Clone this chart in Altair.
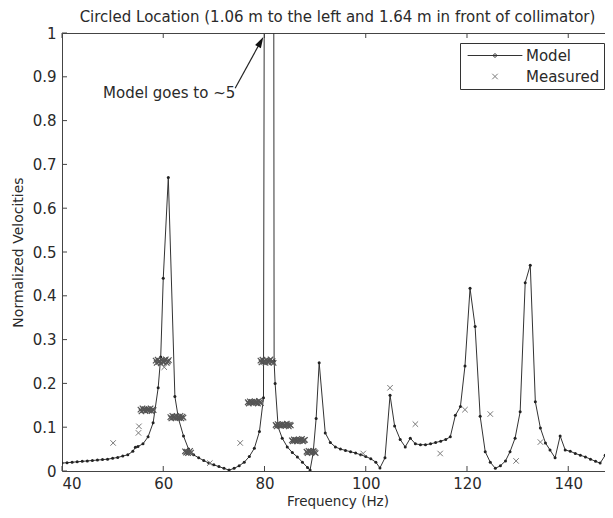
import altair as alt
import pandas as pd

TITLE = "Circled Location (1.06 m to the left and 1.64 m in front of collimator)"
X_TITLE = "Frequency (Hz)"
Y_TITLE = "Normalized Velocities"
X_TICKS = [40, 60, 80, 100, 120, 140]
Y_TICKS = [0, 0.1, 0.2, 0.3, 0.4, 0.5, 0.6, 0.7, 0.8, 0.9, 1.0]
X_DOMAIN = [40, 148.84]
Y_DOMAIN = [0, 1]

MODEL_FREQ = [40, 41, 42, 43, 44, 45, 46, 47, 48, 49, 50, 51, 52, 53, 54, 54.5, 55, 56, 57, 58,
              59, 59.5, 60, 61, 62.3, 63, 64, 65, 66, 67, 68, 69, 70, 71, 72, 73, 74, 75, 76, 77,
              78, 79, 79.8, 80.6, 81.5, 81.9, 82.1, 82.7, 83.5, 84.5, 85.5, 86.5, 87.5, 88.5, 89,
              89.6, 90.2, 90.8, 92, 93, 94, 95, 96, 97, 98, 99, 100, 101, 102, 102.8, 103.8, 104.8,
              105.7, 106.8, 107.8, 108.8, 109.8, 110.8, 111.8, 112.8, 113.8, 114.8, 115.8, 116.7,
              117.7, 118.7, 119.6, 120.6, 121.6, 122.6, 123.6, 124.6, 125.6, 126.6, 127.6, 128.5,
              129.5, 130.5, 131.5, 132.5, 133.5, 134.5, 135.5, 136.4, 137.4, 138.4, 139.4, 140.4,
              141.4, 142.4, 143.4, 144.4, 145.4, 146.3, 147.3, 148.3, 149.3]
MODEL_VEL = [0.018, 0.019, 0.020, 0.021, 0.022, 0.023, 0.024, 0.025, 0.026, 0.027, 0.029, 0.031,
             0.034, 0.037, 0.045, 0.054, 0.056, 0.062, 0.078, 0.11, 0.19, 0.26, 0.44, 0.67, 0.17,
             0.12, 0.08, 0.05, 0.037, 0.03, 0.024, 0.018, 0.014, 0.01, 0.006, 0.002, 0.006, 0.012,
             0.02, 0.033, 0.052, 0.09, 0.167, 5.0, 5.0, 0.25, 0.2, 0.1, 0.075, 0.055, 0.042, 0.032,
             0.02, 0.008, 0.002, 0.04, 0.12, 0.247, 0.087, 0.065, 0.055, 0.05, 0.047, 0.044, 0.041,
             0.037, 0.033, 0.028, 0.02, 0.007, 0.03, 0.173, 0.103, 0.072, 0.055, 0.075, 0.062,
             0.06, 0.06, 0.062, 0.065, 0.068, 0.072, 0.078, 0.127, 0.147, 0.24, 0.417, 0.33, 0.125,
             0.044, 0.02, 0.006, 0.012, 0.023, 0.044, 0.075, 0.135, 0.43, 0.47, 0.158, 0.098,
             0.064, 0.048, 0.03, 0.08, 0.048, 0.045, 0.04, 0.036, 0.032, 0.027, 0.022, 0.018,
             0.036, 0.098, 0.14]

# isolated measured points
MEAS_FREQ = [50.1, 55.1, 55.2, 60.2, 69.2, 75.2,
             99.5, 104.8, 109.8, 114.7, 119.6, 124.6, 129.7, 134.5]
MEAS_VEL = [0.064, 0.087, 0.102, 0.237, 0.018, 0.064,
            0.040, 0.190, 0.107, 0.040, 0.140, 0.130, 0.023, 0.066]

# dense groups of measured points (drawn as overlapping crosses)
CLUSTER_FREQ = [55.5, 55.7, 55.9, 56.1, 56.3, 56.5, 56.7, 56.9, 57.1, 57.3, 57.5, 57.7, 57.9, 58.1,
                58.5, 58.7, 58.9, 59.1, 59.3, 59.5, 59.7, 59.9, 60.1, 60.3, 60.5, 60.7, 60.9, 61.1,
                61.4, 61.6, 61.8, 62.0, 62.2, 62.4, 62.6, 62.8, 63.0, 63.2, 63.4, 63.6, 63.8, 64.0,
                64.3, 64.5, 64.7, 64.9, 65.1, 65.3, 65.5,
                76.7, 76.9, 77.1, 77.3, 77.5, 77.7, 77.9, 78.1, 78.3, 78.5, 78.7, 78.9, 79.1, 79.3,
                79.2, 79.4, 79.6, 79.8, 80.0, 80.2, 80.4, 80.6, 80.8, 81.0, 81.2, 81.4, 81.6, 81.8,
                82.2, 82.4, 82.6, 82.8, 83.0, 83.2, 83.4, 83.6, 83.8, 84.0, 84.2, 84.4, 84.6, 84.8,
                85.0, 85.2,
                85.4, 85.6, 85.8, 86.0, 86.2, 86.4, 86.6, 86.8, 87.0, 87.2, 87.4, 87.6, 87.8, 88.0,
                88.3, 88.5, 88.7, 88.9, 89.1, 89.3, 89.5, 89.7, 89.9, 90.1]
CLUSTER_VEL = [0.140, 0.136, 0.143, 0.139, 0.141, 0.137, 0.142, 0.139, 0.141, 0.138, 0.143, 0.137,
               0.140, 0.139,
               0.252, 0.247, 0.254, 0.249, 0.251, 0.246, 0.253, 0.250, 0.248, 0.252, 0.255, 0.247,
               0.250, 0.253,
               0.123, 0.120, 0.126, 0.122, 0.124, 0.121, 0.125, 0.122, 0.123, 0.121, 0.126, 0.120,
               0.124, 0.122,
               0.045, 0.042, 0.044, 0.041, 0.043, 0.046, 0.042,
               0.157, 0.154, 0.159, 0.156, 0.158, 0.155, 0.157, 0.159, 0.156, 0.158, 0.154, 0.160,
               0.157, 0.155,
               0.252, 0.248, 0.254, 0.249, 0.251, 0.247, 0.253, 0.250, 0.248, 0.252, 0.255, 0.249,
               0.251, 0.247,
               0.105, 0.102, 0.107, 0.104, 0.106, 0.103, 0.105, 0.107, 0.104, 0.106, 0.103, 0.108,
               0.105, 0.102, 0.106, 0.104,
               0.070, 0.068, 0.072, 0.069, 0.071, 0.068, 0.070, 0.072, 0.069, 0.071, 0.073, 0.068,
               0.070, 0.071,
               0.044, 0.041, 0.046, 0.043, 0.045, 0.042, 0.044, 0.046, 0.043, 0.041]

SERIES = ["Model", "Measured"]
SERIES_COLORS = ["#333333", "#7a7a7a"]
CLUSTER_COLOR = "#555555"
NOTE_TEXT = "Model goes to ~5"
NOTE_POS = [48.1, 0.863]
ARROW_FROM = [74.2, 0.874]
ARROW_HEAD = [79.24, 0.980]
ARROW_ANGLE = 28.8

W, H = 551, 438
FONT = "DejaVu Sans"
TXT = "#2a2a2a"

MODEL_SYMBOL = "M-1,0L1,0M-0.06,0A0.06,0.06,0,1,0,0.06,0A0.06,0.06,0,1,0,-0.06,0"
CROSS_SYMBOL = "M-0.1,-0.1L0.1,0.1M-0.1,0.1L0.1,-0.1"
HEAD_SYMBOL = "M0,-1L0.6,1L-0.6,1Z"

model_df = pd.DataFrame({"f": MODEL_FREQ, "v": MODEL_VEL})
meas_df = pd.DataFrame({"f": MEAS_FREQ, "v": MEAS_VEL, "series": ["Measured"] * len(MEAS_FREQ)})
cluster_df = pd.DataFrame({"f": CLUSTER_FREQ, "v": CLUSTER_VEL})
xt_df = pd.DataFrame({"f": X_TICKS})
yt_df = pd.DataFrame({"v": Y_TICKS})
note_df = pd.DataFrame({"f": [NOTE_POS[0]], "v": [NOTE_POS[1]], "label": [NOTE_TEXT]})
arrow_df = pd.DataFrame({"f": [ARROW_FROM[0]], "v": [ARROW_FROM[1]],
                         "f2": [ARROW_HEAD[0]], "v2": [ARROW_HEAD[1]]})
head_df = pd.DataFrame({"f": [ARROW_HEAD[0]], "v": [ARROW_HEAD[1]]})

xscale = alt.Scale(domain=X_DOMAIN, nice=False, zero=False)
yscale = alt.Scale(domain=Y_DOMAIN, nice=False, zero=False)

axis_style = dict(ticks=False, domain=False, grid=False, labelFont=FONT, labelFontSize=15,
                  labelColor=TXT, titleFont=FONT, titleColor=TXT, titleFontWeight="normal")
x_axis = alt.Axis(values=X_TICKS, title=X_TITLE, labelPadding=5, titlePadding=3,
                  titleFontSize=13.5, **axis_style)
y_axis = alt.Axis(values=Y_TICKS, title=Y_TITLE, format="~g", labelPadding=6, titlePadding=7,
                  titleFontSize=14, **axis_style)

def X():
    return alt.X("f", type="quantitative", scale=xscale, axis=x_axis)

def Y():
    return alt.Y("v", type="quantitative", scale=yscale, axis=y_axis)

line = alt.Chart(model_df).mark_line(color="#333333", strokeWidth=1, clip=True).encode(
    x=X(), y=Y())
dots = alt.Chart(model_df).mark_circle(color="#222222", size=9, opacity=1, clip=True).encode(
    x=X(), y=Y())

legend = alt.Legend(title=None, orient="none", legendX=398, legendY=10, padding=4,
                    strokeColor="#333333", fillColor="white", clipHeight=17, rowPadding=4,
                    symbolSize=3000, symbolStrokeWidth=1, symbolOffset=3, labelOffset=3,
                    labelFont=FONT, labelFontSize=15, labelColor=TXT)
meas = alt.Chart(meas_df).mark_point(filled=False, size=3000, strokeWidth=1, opacity=1,
                                     clip=True).encode(
    x=X(), y=Y(),
    color=alt.Color("series:N", scale=alt.Scale(domain=SERIES, range=SERIES_COLORS), legend=legend),
    shape=alt.Shape("series:N", scale=alt.Scale(domain=SERIES, range=[MODEL_SYMBOL, CROSS_SYMBOL]),
                    legend=legend),
)
cluster = alt.Chart(cluster_df).mark_point(filled=False, size=3000, strokeWidth=1.2, opacity=1,
                                           shape=CROSS_SYMBOL, color=CLUSTER_COLOR,
                                           clip=True).encode(x=X(), y=Y())

tick_color = "#444444"
bottom_ticks = alt.Chart(xt_df).mark_rule(color=tick_color, strokeWidth=1).encode(
    x=X(), y=alt.value(H), y2=alt.value(H - 5))
top_ticks = alt.Chart(xt_df).mark_rule(color=tick_color, strokeWidth=1).encode(
    x=X(), y=alt.value(0), y2=alt.value(5))
left_ticks = alt.Chart(yt_df).mark_rule(color=tick_color, strokeWidth=1).encode(
    y=Y(), x=alt.value(0), x2=alt.value(5))
right_ticks = alt.Chart(yt_df).mark_rule(color=tick_color, strokeWidth=1).encode(
    y=Y(), x=alt.value(W - 5), x2=alt.value(W))

note = alt.Chart(note_df).mark_text(align="left", baseline="middle", font=FONT, fontSize=15,
                                    color=TXT).encode(x=X(), y=Y(), text="label:N")
shaft = alt.Chart(arrow_df).mark_rule(color="#222222", strokeWidth=1.2).encode(
    x=X(), y=Y(), x2="f2:Q", y2="v2:Q")
head = alt.Chart(head_df).mark_point(shape=HEAD_SYMBOL, filled=True, size=120, angle=ARROW_ANGLE,
                                     color="#111111", opacity=1).encode(x=X(), y=Y())

chart = alt.layer(
    line, dots, cluster, meas, bottom_ticks, top_ticks, left_ticks, right_ticks, note, shaft, head
).properties(
    width=W, height=H,
    title=alt.TitleParams(TITLE, font=FONT, fontSize=15, fontWeight="normal", color=TXT,
                          anchor="middle", frame="group", offset=1),
    autosize=alt.AutoSizeParams(type="none"),
    padding={"left": 54, "top": 25, "right": -8, "bottom": 39},
    background="white",
).configure_view(
    stroke="#444444", strokeWidth=1
)

chart.save("out.html", embed_options={"renderer": "svg", "actions": False})
